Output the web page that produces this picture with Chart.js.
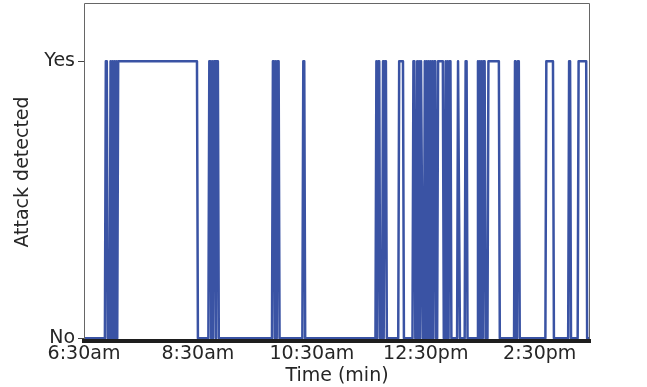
<!DOCTYPE html>
<html lang="en">
<head>
  <meta charset="UTF-8" />
  <title>Attack detected over time</title>
  <script src="https://cdn.jsdelivr.net/npm/chart.js"></script>
  <style>
    html, body { margin: 0; padding: 0; background: #fff; }
    #wrap { width: 647px; height: 387px; }
  </style>
</head>
<body>
  <div id="wrap"><canvas id="attackChart" width="647" height="387"></canvas></div>

  <script>
    // minutes after 6:30am
    const xTickMinutes = [0, 120, 240, 360, 480];
    const xTickLabels = ['6:30am', '8:30am', '10:30am', '12:30pm', '2:30pm'];
    const yTickLabels = ['No', 'Yes'];
    const sessionEnd = 533;

    // periods where an attack was flagged (start / end minute)
    const attackOn  = [22, 27, 29, 31, 33, 35, 131, 134, 136, 139, 198, 201, 203, 230,
                       307, 309, 314, 316, 331, 346, 350, 352, 354, 358, 360, 362, 364, 366, 368, 372,
                       380, 382, 384, 393, 401, 414, 416, 418, 420, 425, 453, 456, 486, 510, 520];
    const attackOff = [24, 28, 30, 32, 34, 119, 133, 135, 138, 141, 200, 202, 205, 232,
                       308, 311, 315, 318, 336, 348, 351, 353, 356, 359, 361, 363, 365, 367, 370, 378,
                       381, 383, 386, 395, 403, 415, 417, 419, 422, 437, 454, 458, 494, 512, 529];

    const points = [{x: 0, y: 0}];
    attackOn.forEach((on, i) => {
      const off = attackOff[i];
      points.push({x: on, y: 0}, {x: on + 1, y: 1}, {x: off, y: 1}, {x: off + 1, y: 0});
    });
    points.push({x: sessionEnd, y: 0});

    const font = { family: 'DejaVu Sans', size: 19 };
    const textColor = '#262626';

    const frame = {
      id: 'frame',
      afterDatasetsDraw(chart) {
        const a = chart.chartArea, ctx = chart.ctx;
        ctx.save();
        ctx.strokeStyle = '#666';
        ctx.lineWidth = 1;
        ctx.beginPath();
        ctx.moveTo(a.left + 0.5, a.bottom);
        ctx.lineTo(a.left + 0.5, a.top + 0.5);
        ctx.lineTo(a.right - 0.5, a.top + 0.5);
        ctx.lineTo(a.right - 0.5, a.bottom);
        ctx.stroke();
        ctx.restore();
      }
    };

    new Chart(document.getElementById('attackChart').getContext('2d'), {
      type: 'line',
      data: {
        datasets: [{
          data: points,
          borderColor: '#3a53a4',
          borderWidth: 2.5,
          pointRadius: 0,
          tension: 0,
          fill: false,
          borderJoinStyle: 'round'
        }]
      },
      options: {
        responsive: false,
        animation: false,
        layout: { padding: { top: 3, right: 57, left: 0, bottom: 0 } },
        plugins: { legend: { display: false }, tooltip: { enabled: false } },
        scales: {
          x: {
            type: 'linear',
            min: 0,
            max: sessionEnd,
            afterFit: s => { s.height = 46; s.paddingLeft = 0; s.paddingRight = 0; },
            afterBuildTicks: s => { s.ticks = xTickMinutes.map(v => ({ value: v })); },
            ticks: {
              font: font,
              color: textColor,
              padding: 2,
              maxRotation: 0,
              callback: v => xTickLabels[xTickMinutes.indexOf(v)]
            },
            grid: { display: false, drawTicks: false, tickLength: 0 },
            border: { display: true, color: '#1e1e1e', width: 4, z: 1 },
            title: {
              display: true,
              text: 'Time (min)',
              font: font,
              color: textColor,
              padding: { top: 0, bottom: 0 }
            }
          },
          y: {
            min: -0.01,
            max: 1.21,
            afterFit: s => { s.width = 84; s.paddingTop = 0; s.paddingBottom = 0; },
            afterBuildTicks: s => { s.ticks = [{ value: 0 }, { value: 1 }]; },
            ticks: {
              font: font,
              color: textColor,
              padding: 3,
              callback: v => yTickLabels[v]
            },
            grid: {
              display: true,
              drawOnChartArea: false,
              drawTicks: true,
              tickLength: 6,
              color: '#444',
              lineWidth: 1
            },
            border: { display: false },
            title: {
              display: true,
              text: 'Attack detected',
              font: font,
              color: textColor,
              padding: { top: 12, bottom: 0 }
            }
          }
        }
      },
      plugins: [frame]
    });
  </script>
</body>
</html>
